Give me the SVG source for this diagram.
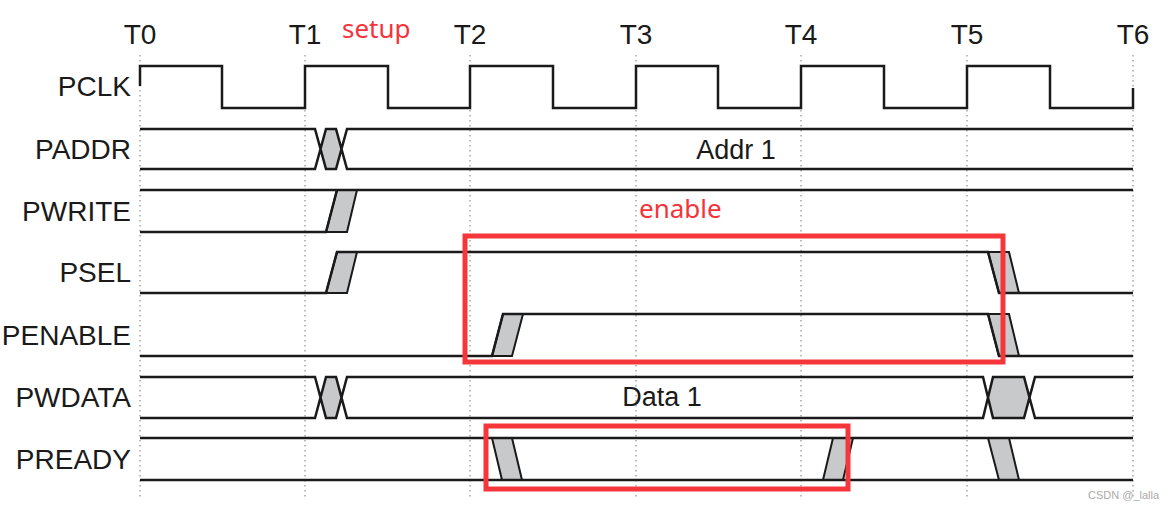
<svg xmlns="http://www.w3.org/2000/svg" width="1174" height="508" viewBox="0 0 1174 508">
<style>
.lbl{font-family:"Liberation Sans",Arial,sans-serif;font-size:28px;fill:#1a1a1a}
.t{text-anchor:middle}
.r{text-anchor:end}
.red{font-family:"Noto Sans","Liberation Sans",sans-serif;font-size:26px;fill:#f5333a}
.g{stroke:#999;stroke-width:1.3;stroke-dasharray:1.5 3.5;fill:none}
.w{stroke:#1a1a1a;stroke-width:2.5;fill:none}
.s{stroke:#1a1a1a;stroke-width:2;fill:#c8c9cb;stroke-linejoin:miter}
.box{stroke:#f5363a;stroke-width:5;fill:none}
</style>
<rect width="1174" height="508" fill="#fff"/>
<g id="grid">
<path class="g" d="M140 55V500M305 55V500M470 55V500M636 55V500M801 55V500M967 55V500M1133 55V500"/>
</g>
<g id="labels">
<text class="lbl t" x="140" y="44">T0</text>
<text class="lbl t" x="305" y="44">T1</text>
<text class="lbl t" x="470" y="44">T2</text>
<text class="lbl t" x="636" y="44">T3</text>
<text class="lbl t" x="801" y="44">T4</text>
<text class="lbl t" x="967" y="44">T5</text>
<text class="lbl t" x="1133" y="44">T6</text>
<text class="lbl r" x="131" y="96">PCLK</text>
<text class="lbl r" x="131" y="159">PADDR</text>
<text class="lbl r" x="131" y="221">PWRITE</text>
<text class="lbl r" x="131" y="282">PSEL</text>
<text class="lbl r" x="131" y="345">PENABLE</text>
<text class="lbl r" x="131" y="407">PWDATA</text>
<text class="lbl r" x="131" y="469">PREADY</text>
<text class="lbl t" x="736" y="159" style="font-size:27px">Addr 1</text>
<text class="lbl t" x="662" y="406" style="font-size:27px">Data 1</text>
<text class="red" x="342" y="38">setup</text>
<text class="red" x="639" y="218">enable</text>
<text x="1088" y="499" style="font-family:'Liberation Sans',sans-serif;font-size:11px;fill:#aaa">CSDN @_lalla</text>
</g>
<g id="signals">
<g id="pclk"><path class="w" d="M140 86V66H222V108H305V66H388V108H470V66H553V108H636V66H718V108H801V66H884V108H967V66H1050V108H1133V88"/></g>
<g id="paddr">
<path d="M321 149L326 129H336L341 149L336 169H326Z" fill="#c8c9cb"/>
<path class="w" d="M140 129H315L326 169H336L347 129H1133M140 169H315L326 129H336L347 169H1133"/>
</g>
<g id="pwrite">
<path class="s" d="M326 232L337 190H357L347 232Z"/>
<path class="w" d="M140 190H1133M140 232H326L337 190"/>
</g>
<g id="psel">
<path class="s" d="M326 293L337 252H357L347 293Z"/>
<path class="s" d="M988 252H1009L1019 293H999Z"/>
<path class="w" d="M140 293H326L337 252H988L999 293H1133"/>
</g>
<g id="penable">
<path class="s" d="M492 356L503 314H523L512 356Z"/>
<path class="s" d="M988 314H1009L1019 356H999Z"/>
<path class="w" d="M140 356H492L503 314H988L999 356H1133"/>
</g>
<g id="pwdata">
<path d="M321 397L326 377H336L341 397L336 418H326Z" fill="#c8c9cb"/>
<path d="M988 397L993 377H1024L1030 397L1024 418H993Z" fill="#c8c9cb"/>
<path class="w" d="M140 377H315L326 418H336L347 377H983L993 418H1024L1035 377H1133M140 418H315L326 377H336L347 418H983L993 377H1024L1035 418H1133"/>
</g>
<g id="pready">
<path class="s" d="M492 438H512L522 480H502Z"/>
<path class="s" d="M823 480L833 438H853L843 480Z"/>
<path class="s" d="M988 438H1009L1019 480H999Z"/>
<path class="w" d="M140 438H1133M140 480H1133"/>
</g>
</g>
<g id="highlights">
<rect class="box" x="465" y="236" width="538" height="126"/>
<rect class="box" x="486" y="426" width="362" height="63"/>
</g>
</svg>
